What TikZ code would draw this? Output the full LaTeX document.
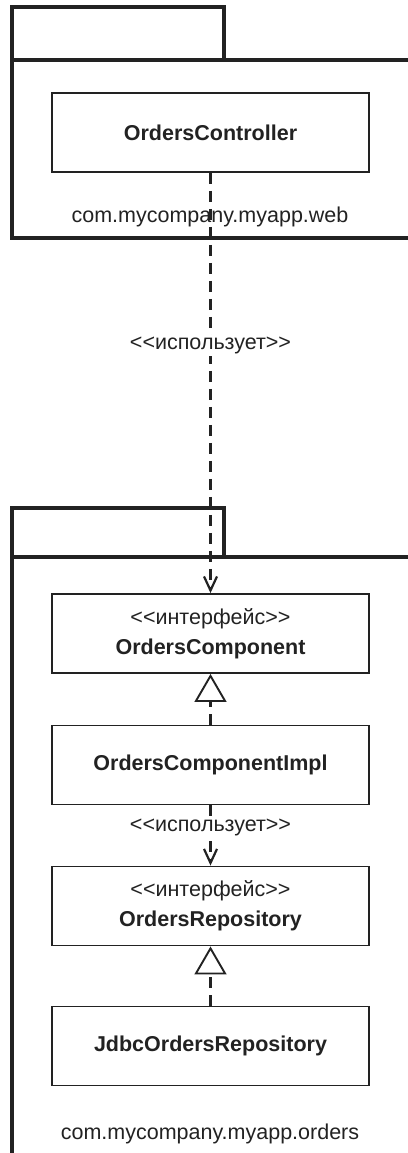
\documentclass[tikz,border=0pt]{standalone}
\usepackage{fontspec}
\setmainfont{Liberation Sans}[Ligatures=TeXOff]
\usetikzlibrary{arrows.meta}
\definecolor{ink}{HTML}{222222}
\definecolor{txt}{HTML}{222222}
\tikzset{
  pkg/.style={draw=ink, line width=3.4pt, line cap=butt, line join=miter},
  cls/.style={draw=ink, line width=1.9pt, minimum width=317pt, minimum height=79pt,
    text=txt, align=center, inner sep=0pt, font=\fontsize{21.5}{30}\selectfont},
  lbl/.style={text=txt, inner sep=2pt, font=\fontsize{21.5}{26}\selectfont},
  dep/.style={draw=ink, line width=2.4pt, dash pattern=on 11pt off 7pt,
    -{Straight Barb[length=14pt,width=13pt,line width=2.2pt]}},
  real/.style={draw=ink, line width=2.4pt, dash pattern=on 11pt off 7pt,
    -{Triangle[open,length=28pt,width=32pt,line width=1.9pt,fill=white]}},
}
\begin{document}
\begin{tikzpicture}[x=1pt,y=-1pt]
\useasboundingbox (0,0) rectangle (407,1153);
\fill[white] (0,0) rectangle (407,1153);
% package web
\draw[pkg] (12,60) -- (12,7) -- (224,7) -- (224,60);
\draw[pkg] (410,60) -- (12,60) -- (12,238) -- (410,238);
\node[lbl] (webl) at (210,217) {com.mycompany.myapp.web};
% package orders
\draw[pkg] (12,557) -- (12,508) -- (224,508) -- (224,557);
\draw[pkg] (410,557) -- (12,557) -- (12,1156);
\node[lbl] (ordl) at (210,1134) {com.mycompany.myapp.orders};
% classes
\node[cls] (ctrl) at (210.5,132.5) {\textbf{OrdersController}};
\node[cls] (comp) at (210.5,633.5) {<<интерфейс>>\\\textbf{OrdersComponent}};
\node[cls] (impl) at (210.5,765) {\textbf{OrdersComponentImpl}};
\node[cls] (repo) at (210.5,906) {<<интерфейс>>\\\textbf{OrdersRepository}};
\node[cls] (jdbc) at (210.5,1046) {\textbf{JdbcOrdersRepository}};
% connectors
\draw[dep] (ctrl.south) -- node[lbl, fill=white, pos=0.41] (use1) {<<использует>>} (comp.north);
\draw[dep] (impl.south) -- node[lbl, fill=white, pos=0.36] (use2) {<<использует>>} (repo.north);
\draw[real] (impl.north) -- (comp.south);
\draw[real] (jdbc.north) -- (repo.south);
\end{tikzpicture}
\end{document}
